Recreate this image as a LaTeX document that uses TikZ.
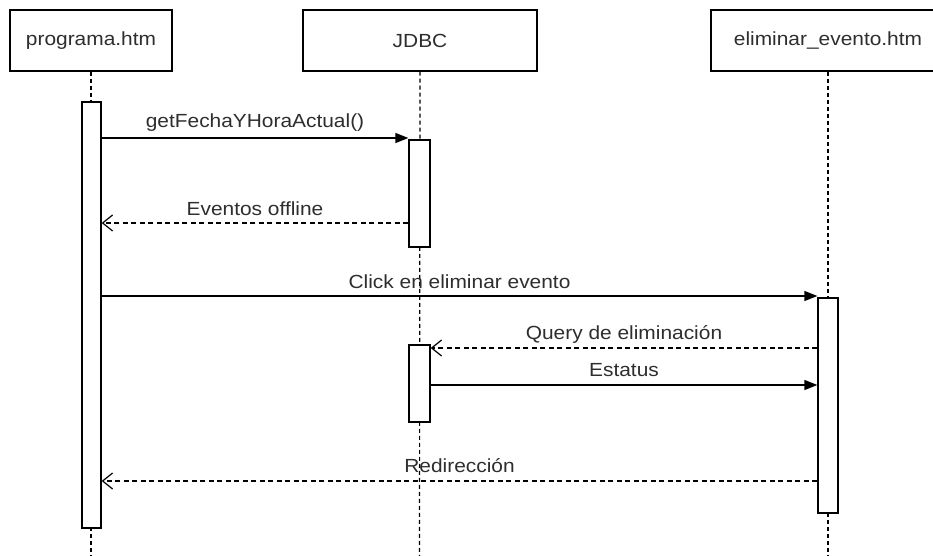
\documentclass[tikz,border=0pt]{standalone}
\usepackage{fontspec}
\setmainfont{Liberation Sans}[FakeStretch=1.1]
\usetikzlibrary{arrows.meta}
\definecolor{txt}{HTML}{2E2E2E}
\begin{document}
\begin{tikzpicture}[x=1pt,y=-1pt,
  font=\fontsize{19}{22}\selectfont,
  obj/.style={draw, line width=1.5pt, fill=white, minimum width=234pt, minimum height=61pt, inner sep=0pt, text=txt},
  life/.style={line width=1.2pt, dash pattern=on 4pt off 3pt},
  act/.style={draw, fill=white, line width=1.3pt, inner sep=0pt},
  msg/.style={line width=1.3pt, -{Triangle[length=13pt,width=10pt]}},
  ret/.style={line width=1.3pt, dash pattern=on 5pt off 3.5pt, -{Straight Barb[length=10pt,width=16pt,line width=1.2pt]}},
  lbl/.style={text=txt, inner sep=0pt}]
\clip (0,0) rectangle (933,556);
\fill[white] (0,0) rectangle (933,556);
% objects
\node[obj, minimum width=162pt] (p) at (91,40.5) {programa.htm};
\node[obj] (j) at (420,40.5) {JDBC};
\node[obj] (e) at (828,40.5) {eliminar\_evento.htm};
% lifeline ends
\coordinate (pe) at (91,556);
\coordinate (je) at (419.5,556);
\coordinate (ee) at (828,556);
\draw[life] (p.south) -- (pe);
\draw[life] (j.south) -- (je);
\draw[life] (e.south) -- (ee);
% activations
\node[act, minimum width=19pt, minimum height=426pt] (a1) at (91.5,315) {};
\node[act, minimum width=21pt, minimum height=107pt] (j1) at (419.5,193.5) {};
\node[act, minimum width=21pt, minimum height=77pt] (j2) at (419.5,383.5) {};
\node[act, minimum width=20pt, minimum height=215pt] (e1) at (828,405.5) {};
% messages
\draw[msg] (a1.east |- 0,138) -- node[lbl, midway, yshift=15pt] (l1) {getFechaYHoraActual()} (j1.west |- 0,138);
\draw[ret] (j1.west |- 0,223) -- node[lbl, midway, yshift=14pt] (l2) {Eventos offline} (a1.east |- 0,223);
\draw[msg] (a1.east |- 0,296) -- node[lbl, midway, yshift=14pt] (l3) {Click en eliminar evento} (e1.west |- 0,296);
\draw[ret] (e1.west |- 0,348) -- node[lbl, midway, yshift=14pt] (l4) {Query de eliminación} (j2.east |- 0,348);
\draw[msg] (j2.east |- 0,385) -- node[lbl, midway, yshift=15pt] (l5) {Estatus} (e1.west |- 0,385);
\draw[ret] (e1.west |- 0,481) -- node[lbl, midway, yshift=15pt] (l6) {Redirección} (a1.east |- 0,481);
\end{tikzpicture}
\end{document}
